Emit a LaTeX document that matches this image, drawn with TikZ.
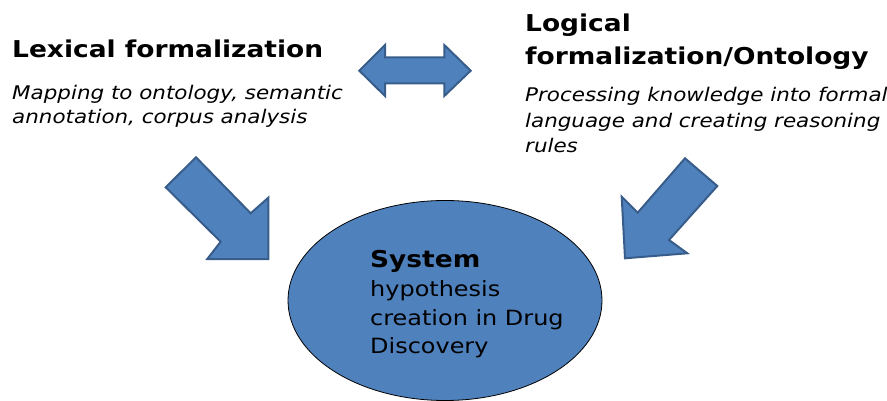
\documentclass[tikz,border=0pt]{standalone}
\usepackage{fontspec}
\setmainfont{DejaVu Sans}[FakeStretch=1.14]
\definecolor{shapefill}{HTML}{4F81BD}
\definecolor{shapeline}{HTML}{385D8A}
\begin{document}
\begin{tikzpicture}[x=1pt,y=-1pt,
  blockarrow/.style={fill=shapefill,draw=shapeline,line width=2pt,line join=miter},
  heading/.style={anchor=base west,inner sep=0pt,font=\fontsize{23.2}{28}\selectfont\bfseries},
  note/.style={anchor=base west,inner sep=0pt,font=\fontsize{18.8}{23}\selectfont\itshape},
  body/.style={anchor=base west,inner sep=0pt,font=\fontsize{21}{29}\selectfont}]
\useasboundingbox (0,0) rectangle (887,401);
% double arrow
\draw[blockarrow] (359.3,70.7) -- (385,45) -- (385,57.3) -- (444.3,57.3) -- (444.3,45)
  -- (470.7,70.7) -- (444.3,96) -- (444.3,83.3) -- (385,83.3) -- (385,96) -- cycle;
% left diagonal arrow
\draw[blockarrow] (196,157.3) -- (250.7,213.3) -- (268.3,197.7) -- (268.3,259)
  -- (207.3,259) -- (220.7,241.7) -- (165.7,187.3) -- cycle;
% right diagonal arrow
\draw[blockarrow] (685,158.3) -- (717.3,186) -- (669,240) -- (687.3,253.3)
  -- (625,258.3) -- (621.7,196.7) -- (637.7,212.7) -- cycle;
% ellipse
\path[fill=shapefill,draw=black,line width=0.8pt] (445,300.5) ellipse [x radius=157, y radius=100];
% texts
\node[heading] (lexh) at (12,57.5) {Lexical formalization};
\node[note] (lex1) at (12,100) {Mapping to ontology, semantic};
\node[note] (lex2) at (12,123.5) {annotation, corpus analysis};
\node[heading] (logh1) at (525,31.7) {Logical};
\node[heading] (logh2) at (525,65) {formalization/Ontology};
\node[note] (log1) at (525,102) {Processing knowledge into formal};
\node[note] (log2) at (525,127.5) {language and creating reasoning};
\node[note] (log3) at (525,153) {rules};
\node[heading] (sys) at (370,267.5) {System};
\node[body] (sys1) at (370,296.5) {hypothesis};
\node[body] (sys2) at (370,325) {creation in Drug};
\node[body] (sys3) at (370,353.5) {Discovery};
\end{tikzpicture}
\end{document}
